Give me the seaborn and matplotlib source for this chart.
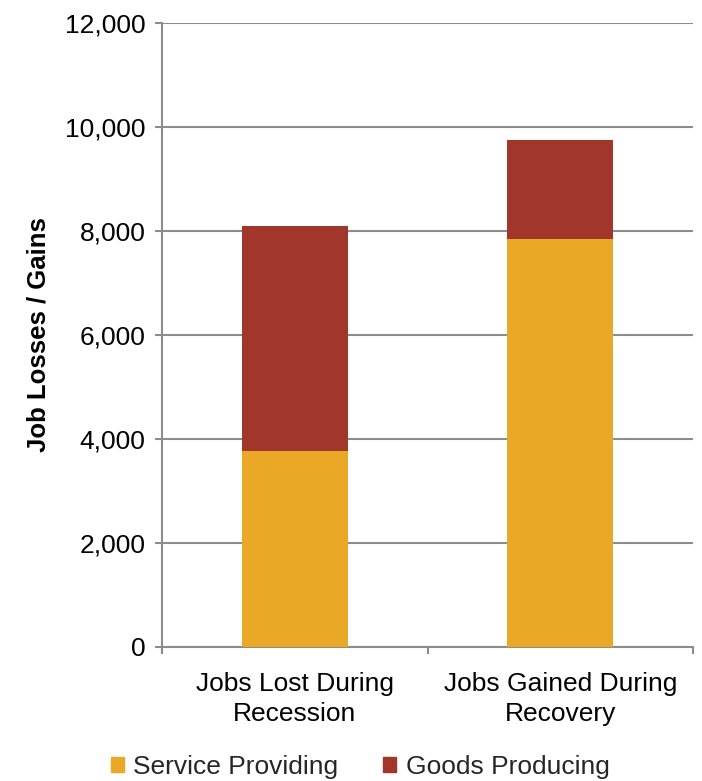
import matplotlib
matplotlib.use("Agg")
import matplotlib.pyplot as plt
import matplotlib.patches as mpatches
import seaborn as sns
import pandas as pd

categories = ["Jobs Lost During\nRecession", "Jobs Gained During\nRecovery"]
service_providing = [3770, 7840]
goods_producing = [4330, 1900]
y_ticks = [0, 2000, 4000, 6000, 8000, 10000, 12000]

service_color = "#E9A825"
goods_color = "#A0372A"
grid_color = "#8C8C8C"

sns.set_theme(style="white")
plt.rcParams["font.family"] = ["Liberation Sans", "DejaVu Sans"]

df = pd.DataFrame({
    "category": categories,
    "service": service_providing,
    "goods": goods_producing,
})
df["total"] = df["service"] + df["goods"]

fig = plt.figure(figsize=(7.02, 7.81), dpi=100)
ax = fig.add_axes([0.2308, 0.1716, 0.7564, 0.799])

# Stacked bars: total (goods on top) drawn first, service drawn over the lower part
sns.barplot(data=df, x="category", y="total", color=goods_color, width=0.4,
            saturation=1, linewidth=0, ax=ax, zorder=3)
sns.barplot(data=df, x="category", y="service", color=service_color, width=0.4,
            saturation=1, linewidth=0, ax=ax, zorder=4)

ax.set_xlim(-0.5, 1.5)
ax.set_ylim(0, 12000)
ax.set_yticks(y_ticks)
ax.set_yticklabels([f"{v:,}" for v in y_ticks])
ax.yaxis.grid(True, color=grid_color, linewidth=1.5, zorder=0)
ax.set_axisbelow(True)

for side in ["top", "right"]:
    ax.spines[side].set_visible(False)
for side in ["left", "bottom"]:
    ax.spines[side].set_color(grid_color)
    ax.spines[side].set_linewidth(1.5)

ax.tick_params(axis="y", which="major", left=True, length=5, width=1.5,
               color=grid_color, labelsize=19, pad=7, labelcolor="black")
ax.tick_params(axis="x", which="major", bottom=False, labelsize=19, pad=12,
               labelcolor="black")
ax.set_xticks([-0.5, 0.5, 1.5], minor=True)
ax.tick_params(axis="x", which="minor", bottom=True, length=5, width=1.5,
               color=grid_color)
for lbl in ax.get_xticklabels():
    lbl.set_linespacing(1.3)

ax.set_xlabel("")
ax.set_ylabel("Job Losses / Gains", fontsize=18.5, fontweight="bold", labelpad=10,
              color="black")

handles = [mpatches.Patch(color=service_color, label="Service Providing"),
           mpatches.Patch(color=goods_color, label="Goods Producing")]
fig.legend(handles=handles, loc="center", bbox_to_anchor=(0.513, 0.018),
           ncol=2, frameon=False, fontsize=19, handlelength=0.5,
           handleheight=0.5, handletextpad=0.35, columnspacing=1.7,
           borderaxespad=0)

fig.savefig("out.png", dpi=100, facecolor="white")
